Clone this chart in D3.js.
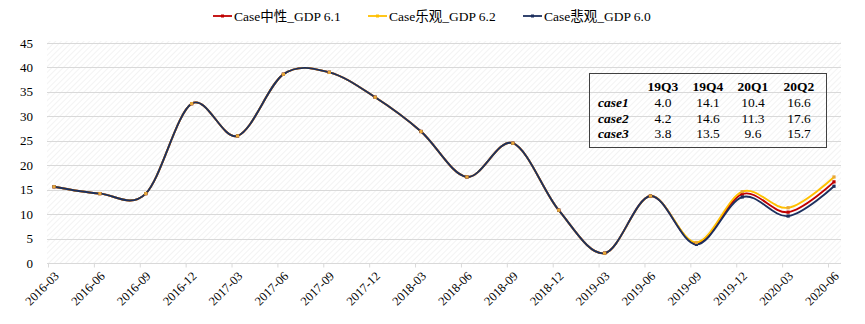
<!DOCTYPE html>
<html>
<head>
<meta charset="utf-8">
<script src="https://cdn.jsdelivr.net/npm/d3@7/dist/d3.min.js"></script>
<style>
  html, body { margin: 0; padding: 0; background: #fff; }
  svg text { font-family: "Liberation Serif", "Times New Roman", "Noto Sans CJK SC", serif; fill: #000; }
</style>
</head>
<body>
<svg id="chart" width="865" height="324"></svg>
<script>
// Quarter labels on the x axis
const quarters = ['2016-03', '2016-06', '2016-09', '2016-12', '2017-03', '2017-06', '2017-09', '2017-12',
  '2018-03', '2018-06', '2018-09', '2018-12', '2019-03', '2019-06', '2019-09', '2019-12', '2020-03', '2020-06'];

// Shared history up to 2019-06, then the three scenarios
const history = [15.6, 14.2, 14.2, 32.6, 26.0, 38.6, 39.0, 33.9, 26.9, 17.6, 24.5, 10.8, 2.0, 13.7];
const case1 = [4.0, 14.1, 10.4, 16.6];
const case2 = [4.2, 14.6, 11.3, 17.6];
const case3 = [3.8, 13.5, 9.6, 15.7];

const seriesNames = ['Case中性_GDP 6.1', 'Case乐观_GDP 6.2', 'Case悲观_GDP 6.0'];
const seriesColors = ['#c00000', '#ffc000', '#1c2f5e'];

const tableHeader = ['19Q3', '19Q4', '20Q1', '20Q2'];
const tableRows = ['case1', 'case2', 'case3'];
const yTicks = [0, 5, 10, 15, 20, 25, 30, 35, 40, 45];

const FONT = '"Liberation Serif", "Times New Roman", "Noto Sans CJK SC", serif';
const svg = d3.select('#chart');

const plot = { left: 47, right: 841, top: 43, bottom: 263 };

// points sit a little right of the tick marks, as in the original
const x = d3.scalePoint().domain(quarters).range([54, 834]);
const xTick = d3.scalePoint().domain(quarters).range([48, 828]);
const y = d3.scaleLinear().domain([0, 45]).range([plot.bottom, plot.top]);

// Diagonal hatch background
const defs = svg.append('defs');
const pat = defs.append('pattern')
  .attr('id', 'hatch')
  .attr('width', 4).attr('height', 4)
  .attr('patternUnits', 'userSpaceOnUse')
  .attr('patternTransform', 'rotate(45)');
pat.append('rect').attr('width', 4).attr('height', 4).attr('fill', '#ffffff');
pat.append('line')
  .attr('x1', 0).attr('y1', 0).attr('x2', 0).attr('y2', 4)
  .attr('stroke', '#ececec').attr('stroke-width', 1.2);

svg.append('rect')
  .attr('x', plot.left).attr('y', plot.top - 2)
  .attr('width', plot.right - plot.left).attr('height', plot.bottom - plot.top + 2)
  .attr('fill', 'url(#hatch)');

// Gridlines
svg.append('g')
  .selectAll('line')
  .data(yTicks)
  .enter()
  .append('line')
  .attr('x1', plot.left).attr('x2', plot.right)
  .attr('y1', d => Math.round(y(d)) + 0.5).attr('y2', d => Math.round(y(d)) + 0.5)
  .attr('stroke', '#d9d9d9').attr('stroke-width', 1);

// Y axis labels
svg.append('g')
  .selectAll('text')
  .data(yTicks)
  .enter()
  .append('text')
  .attr('x', 33)
  .attr('y', d => y(d) + 4.5)
  .attr('text-anchor', 'end')
  .style('font-family', FONT)
  .style('font-size', '13px')
  .text(d => d);

// X axis
const xAxis = svg.append('g')
  .attr('transform', `translate(0,${Math.round(plot.bottom) + 0.5})`)
  .call(d3.axisBottom(xTick).tickSize(4).tickSizeOuter(0).tickPadding(2));
xAxis.select('.domain').attr('stroke', '#d9d9d9').attr('d', `M${plot.left},0H${plot.right}`);
xAxis.selectAll('.tick line').attr('stroke', '#d9d9d9');
xAxis.selectAll('.tick text')
  .style('font-size', '12.5px')
  .style('font-family', FONT)
  .attr('text-anchor', 'end')
  .attr('dy', 0)
  .attr('transform', 'translate(7,9) rotate(-45)');

// Build the three series
function buildSeries(tail) {
  return history.concat(tail).map((v, i) => ({ q: quarters[i], v: v }));
}
const allSeries = [buildSeries(case1), buildSeries(case2), buildSeries(case3)];

const line = d3.line()
  .x(d => x(d.q))
  .y(d => y(d.v))
  .curve(d3.curveCatmullRom.alpha(0));

allSeries.forEach((s, i) => {
  svg.append('path')
    .datum(s)
    .attr('d', line)
    .attr('fill', 'none')
    .attr('stroke', seriesColors[i])
    .attr('stroke-width', 1.9);
});

// Markers (yellow drawn last so its dots show on the shared history)
[0, 2, 1].forEach(i => {
  svg.append('g')
    .selectAll('rect')
    .data(allSeries[i])
    .enter()
    .append('rect')
    .attr('x', d => x(d.q) - 1.6)
    .attr('y', d => y(d.v) - 1.6)
    .attr('width', 3.2).attr('height', 3.2)
    .attr('fill', i === 1 ? '#e8a838' : seriesColors[i]);
});

// Legend
const legendX = [213, 368, 523];
seriesNames.forEach((name, i) => {
  const g = svg.append('g').attr('transform', `translate(${legendX[i]},16)`);
  g.append('line')
    .attr('x1', 0).attr('x2', 19).attr('y1', 0).attr('y2', 0)
    .attr('stroke', seriesColors[i]).attr('stroke-width', 1.8);
  g.append('rect')
    .attr('x', 8).attr('y', -1.5).attr('width', 3).attr('height', 3)
    .attr('fill', seriesColors[i]);
  g.append('text')
    .attr('x', 21).attr('y', 4.5)
    .style('font-family', FONT)
    .style('font-size', '13.5px')
    .text(name);
});

// Scenario table
const table = svg.append('g');
table.append('rect')
  .attr('x', 589.5).attr('y', 73.5)
  .attr('width', 237).attr('height', 74)
  .attr('fill', 'none')
  .attr('stroke', '#404040').attr('stroke-width', 1);

const colX = [663, 708, 753, 799];
const rowY = [107, 122.5, 137.5];
const tableValues = [case1, case2, case3];

table.selectAll('.hdr')
  .data(tableHeader)
  .enter()
  .append('text')
  .attr('class', 'hdr')
  .attr('x', (d, i) => colX[i])
  .attr('y', 91)
  .attr('text-anchor', 'middle')
  .style('font-family', FONT)
  .style('font-size', '13.5px')
  .style('font-weight', 'bold')
  .text(d => d);

tableRows.forEach((r, ri) => {
  table.append('text')
    .attr('x', 598)
    .attr('y', rowY[ri])
    .style('font-family', FONT)
    .style('font-size', '13.5px')
    .style('font-weight', 'bold')
    .style('font-style', 'italic')
    .text(r);
  tableValues[ri].forEach((v, ci) => {
    table.append('text')
      .attr('x', colX[ci])
      .attr('y', rowY[ri])
      .attr('text-anchor', 'middle')
      .style('font-family', FONT)
      .style('font-size', '13.5px')
      .text(v.toFixed(1));
  });
});
</script>
</body>
</html>
